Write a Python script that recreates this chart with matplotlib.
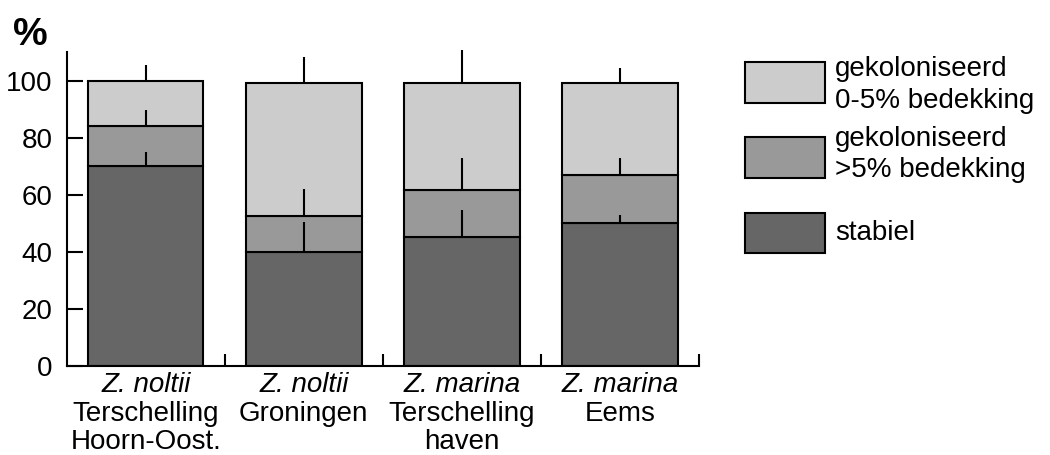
import matplotlib
matplotlib.use("Agg")
import matplotlib.pyplot as plt
from matplotlib.patches import Rectangle

plt.rcParams['font.family'] = ['Liberation Sans', 'DejaVu Sans']

# data (percent of area)
soort = ["Z. noltii", "Z. noltii", "Z. marina", "Z. marina"]
plaats = [["Terschelling", "Hoorn-Oost."], ["Groningen"], ["Terschelling", "haven"], ["Eems"]]
stabiel = [70, 40, 45, 50]
gek_meer5 = [14, 12.5, 16.5, 17]
gek_0tot5 = [16, 46.8, 37.8, 32.3]
# upper error bars for each segment top
err_stabiel = [5, 10.5, 9.5, 3]
err_meer5 = [5.5, 9.5, 11.5, 6]
err_0tot5 = [5.5, 9, 11.5, 5]

kleur = {"0-5": "#cccccc", ">5": "#999999", "stabiel": "#666666"}
legend_labels = [["gekoloniseerd", "0-5% bedekking"], ["gekoloniseerd", ">5% bedekking"], ["stabiel"]]

W, H = 1050, 455
fig = plt.figure(figsize=(W / 100, H / 100), dpi=100)
ax = fig.add_axes([66.7 / W, 89.3 / H, (699 - 66.7) / W, (365.7 - 52) / H])

x = list(range(len(stabiel)))
breedte = 0.73
lw = 1.5
bodem2 = stabiel
bodem3 = [a + b for a, b in zip(stabiel, gek_meer5)]
top = [a + b for a, b in zip(bodem3, gek_0tot5)]

ax.bar(x, stabiel, width=breedte, color=kleur["stabiel"], edgecolor="black", linewidth=lw)
ax.bar(x, gek_meer5, bottom=bodem2, width=breedte, color=kleur[">5"], edgecolor="black", linewidth=lw)
ax.bar(x, gek_0tot5, bottom=bodem3, width=breedte, color=kleur["0-5"], edgecolor="black", linewidth=lw)

for ys, es in [(stabiel, err_stabiel), (bodem3, err_meer5), (top, err_0tot5)]:
    eb = ax.errorbar(x, ys, yerr=[[0] * len(es), es], fmt="none", ecolor="black",
                     elinewidth=lw, capsize=0, zorder=5)
    for c in eb[2]:
        c.set_clip_on(False)

ax.set_xlim(-0.5, 3.5)
ax.set_ylim(0, 110)
ax.set_yticks([0, 20, 40, 60, 80, 100])
ax.set_xticks([0.5, 1.5, 2.5, 3.5])
ax.set_xticklabels([])
ax.tick_params(axis="y", direction="in", length=11.5, width=lw, labelsize=20, pad=10)
ax.tick_params(axis="x", direction="in", length=8.6, width=lw)
for s in ["top", "right"]:
    ax.spines[s].set_visible(False)
for s in ["left", "bottom"]:
    ax.spines[s].set_linewidth(lw)

# category labels, line by line
for i in x:
    ax.annotate(soort[i], xy=(i, 0), xycoords="data", xytext=(0, -18.7),
                textcoords="offset points", ha="center", va="baseline",
                fontsize=20, style="italic", annotation_clip=False)
    for j, regel in enumerate(plaats[i]):
        ax.annotate(regel, xy=(i, 0), xycoords="data", xytext=(0, -39.5 - j * 20.3),
                    textcoords="offset points", ha="center", va="baseline",
                    fontsize=20, annotation_clip=False)

fig.text(13 / W, 1 - 45 / H, "%", fontsize=28, fontweight="bold", ha="left", va="baseline")

# legend drawn by hand
boxes = [(61.7, 102.7), (137, 178), (212.7, 253)]
kleuren = [kleur["0-5"], kleur[">5"], kleur["stabiel"]]
baselines = [[76, 108.3], [146, 176.7], [240]]
for (y0, y1), c, lab, bl in zip(boxes, kleuren, legend_labels, baselines):
    fig.patches.append(Rectangle((745 / W, 1 - y1 / H), 80 / W, (y1 - y0) / H,
                                 transform=fig.transFigure, facecolor=c,
                                 edgecolor="black", linewidth=lw))
    for regel, b in zip(lab, bl):
        fig.text(835 / W, 1 - b / H, regel, fontsize=20, ha="left", va="baseline")

fig.savefig("out.png", dpi=100)
